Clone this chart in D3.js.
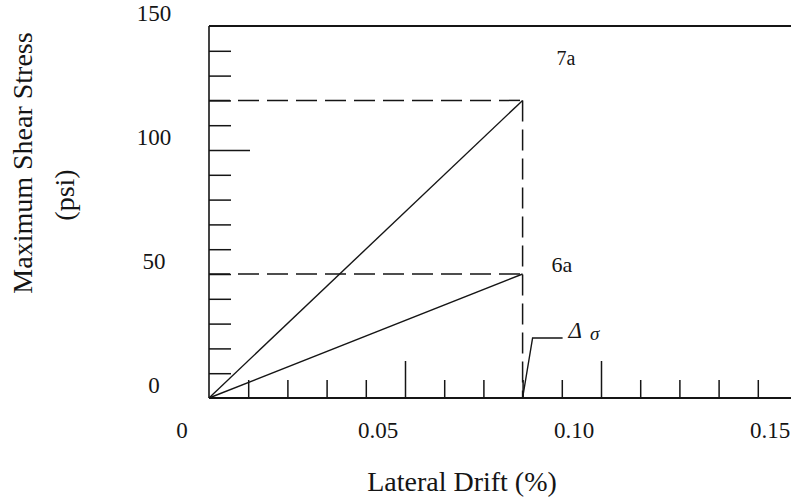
<!DOCTYPE html>
<html>
<head>
<meta charset="utf-8">
<script src="https://cdn.jsdelivr.net/npm/d3@7/dist/d3.min.js"></script>
<style>
  html, body { margin: 0; padding: 0; background: #fff; }
  svg { display: block; }
</style>
</head>
<body>
<div id="chart"></div>
<script>
// ---- data ----
const driftValues = [0, 0.08];          // lateral drift (%)
const shear7a = [0, 120];               // max shear stress (psi), specimen 7a
const shear6a = [0, 50];                // max shear stress (psi), specimen 6a
const seriesNames = ["7a", "6a"];
const deltaCr = 0.08;                   // cracking drift
const xTickLabels = [0, 0.05, 0.10, 0.15];
const yTickLabels = [0, 50, 100, 150];
const xMinorTicks = d3.range(1, 15).map(i => i / 100);
const xMajorTicks = [0.05, 0.10];
const yMinorTicks = d3.range(10, 150, 10);
const yMajorTicks = [100];

// ---- layout ----
const W = 791, H = 499;
const svg = d3.select("#chart").append("svg").attr("width", W).attr("height", H);

const x = d3.scaleLinear().domain([0, 0.15]).range([209, 797]);
const y = d3.scaleLinear().domain([0, 150]).range([398, 26]);

const ink = "#151515";
const serif = "'Liberation Serif', 'Times New Roman', serif";

// frame: left, top, bottom
svg.append("line").attr("x1", x(0)).attr("x2", x(0)).attr("y1", y(0)).attr("y2", y(150))
  .attr("stroke", ink).attr("stroke-width", 1.6);
svg.append("line").attr("x1", x(0)).attr("x2", W).attr("y1", y(150)).attr("y2", y(150))
  .attr("stroke", ink).attr("stroke-width", 1.8);
svg.append("line").attr("x1", x(0)).attr("x2", W).attr("y1", y(0)).attr("y2", y(0))
  .attr("stroke", ink).attr("stroke-width", 1.8);

function styleAxis(g) {
  g.select(".domain").remove();
  g.selectAll(".tick line").attr("stroke", ink).attr("stroke-width", 1.5);
  g.selectAll(".tick text").remove();
}

// x ticks (pointing up)
svg.append("g").attr("transform", `translate(0,${y(0)})`)
  .call(d3.axisBottom(x).tickValues(xMinorTicks.filter(v => !xMajorTicks.some(m => Math.abs(m - v) < 1e-9))).tickSize(-18).tickFormat(""))
  .call(styleAxis);
svg.append("g").attr("transform", `translate(0,${y(0)})`)
  .call(d3.axisBottom(x).tickValues(xMajorTicks).tickSize(-37).tickFormat(""))
  .call(styleAxis);

// y ticks (pointing right)
svg.append("g").attr("transform", `translate(${x(0)},0)`)
  .call(d3.axisLeft(y).tickValues(yMinorTicks.filter(v => !yMajorTicks.includes(v))).tickSize(-22).tickFormat(""))
  .call(styleAxis);
svg.append("g").attr("transform", `translate(${x(0)},0)`)
  .call(d3.axisLeft(y).tickValues(yMajorTicks).tickSize(-41).tickFormat(""))
  .call(styleAxis);

// tick labels
svg.append("g").selectAll("text").data(xTickLabels).join("text")
  .attr("x", d => x(d) - 27).attr("y", 438)
  .attr("text-anchor", "middle")
  .attr("font-family", serif).attr("font-size", 23).attr("fill", ink)
  .text(d => d === 0 ? "0" : d3.format(".2f")(d));

svg.append("g").selectAll("text").data(yTickLabels).join("text")
  .attr("x", 154).attr("y", d => y(d) - 5)
  .attr("text-anchor", "middle")
  .attr("font-family", serif).attr("font-size", 23).attr("fill", ink)
  .text(d => d);

// dashed guides
const dash = "21,8";
[shear7a, shear6a].forEach(s => {
  svg.append("line")
    .attr("x1", x(0)).attr("x2", x(driftValues[1]))
    .attr("y1", y(s[1])).attr("y2", y(s[1]))
    .attr("stroke", ink).attr("stroke-width", 1.5).attr("stroke-dasharray", dash);
});
svg.append("line")
  .attr("x1", x(deltaCr)).attr("x2", x(deltaCr))
  .attr("y1", y(shear7a[1])).attr("y2", y(0))
  .attr("stroke", ink).attr("stroke-width", 1.5).attr("stroke-dasharray", dash);

// data lines
const line = d3.line().x(d => x(d[0])).y(d => y(d[1]));
[shear7a, shear6a].forEach(s => {
  svg.append("path")
    .datum(driftValues.map((d, i) => [d, s[i]]))
    .attr("d", line)
    .attr("fill", "none").attr("stroke", ink).attr("stroke-width", 1.4);
});

// series labels
svg.append("text").attr("x", x(driftValues[1]) + 34).attr("y", y(shear7a[1]) - 35)
  .attr("font-family", serif).attr("font-size", 20).attr("fill", ink).text(seriesNames[0]);
svg.append("text").attr("x", x(driftValues[1]) + 29).attr("y", y(shear6a[1]) - 2)
  .attr("font-family", serif).attr("font-size", 22).attr("fill", ink).text(seriesNames[1]);

// delta_cr leader
const lx = x(deltaCr), ly = y(0);
svg.append("path")
  .attr("d", `M${lx},${ly} L${lx + 10},${ly - 60} L${lx + 40},${ly - 60}`)
  .attr("fill", "none").attr("stroke", ink).attr("stroke-width", 1.4);
const dt = svg.append("text").attr("x", lx + 46).attr("y", ly - 60)
  .attr("font-family", serif).attr("font-style", "italic").attr("font-size", 23).attr("fill", ink);
dt.append("tspan").text("Δ");
dt.append("tspan").attr("dx", 8).attr("dy", 2).attr("font-size", 19).text("σ");

// axis titles
svg.append("text").attr("x", 462).attr("y", 491)
  .attr("text-anchor", "middle")
  .attr("font-family", serif).attr("font-size", 28).attr("fill", ink)
  .text("Lateral Drift (%)");
svg.append("text").attr("transform", "translate(32,163) rotate(-90)")
  .attr("text-anchor", "middle")
  .attr("font-family", serif).attr("font-size", 28).attr("fill", ink)
  .text("Maximum Shear Stress");
svg.append("text").attr("transform", "translate(74,195) rotate(-90)")
  .attr("text-anchor", "middle")
  .attr("font-family", serif).attr("font-size", 28).attr("fill", ink)
  .text("(psi)");
</script>
</body>
</html>
